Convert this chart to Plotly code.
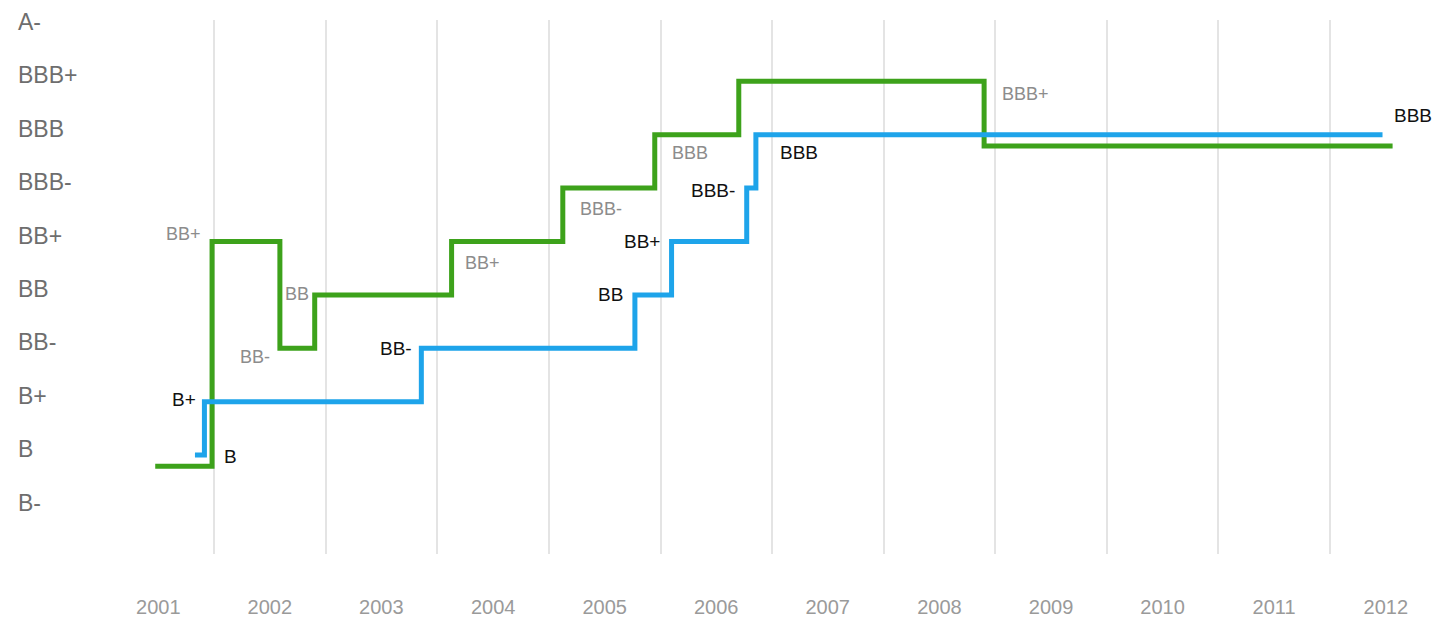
import plotly.graph_objects as go
from datetime import date

# ---------------- data ----------------
rating_scale = ["B-", "B", "B+", "BB-", "BB", "BB+", "BBB-", "BBB", "BBB+", "A-"]
years = [str(y) for y in range(2001, 2013)]

green_dates = ["2001-06-22", "2001-12-25", "2002-08-04", "2002-11-26", "2004-02-17",
               "2005-02-15", "2005-12-13", "2006-09-14", "2008-11-25", "2012-07-24"]
green_ratings = ["B", "BB+", "BB-", "BB", "BB+", "BBB-", "BBB", "BBB+", "BBB", "BBB"]

blue_dates = ["2001-10-30", "2001-11-30", "2003-11-10", "2005-10-09", "2006-02-06",
              "2006-10-10", "2006-11-09", "2012-06-21"]
blue_ratings = ["B", "B+", "BB-", "BB", "BB+", "BBB-", "BBB", "BBB"]

green_label_dates = ["2001-12-25", "2002-08-04", "2002-11-26", "2004-02-17",
                     "2005-02-15", "2005-12-13", "2008-11-25"]
green_label_ratings = ["BB+", "BB-", "BB", "BB+", "BBB-", "BBB", "BBB+"]

blue_label_dates = ["2001-11-30", "2001-11-30", "2003-11-10", "2005-10-09",
                    "2006-02-06", "2006-10-10", "2006-11-09", "2012-06-21"]
blue_label_ratings = ["B", "B+", "BB-", "BB", "BB+", "BBB-", "BBB", "BBB"]

# ---------------- styles ----------------
GREEN = "#3da21b"
BLUE = "#1ea4ea"
GRID = "#e4e4e4"
OVERLAP_OFFSET = 0.21  # vertical separation (category units) where both lines share a rating

# (xanchor, xshift px, yshift px) for each label
green_label_style = [("right", -9, 8), ("right", -8, -9), ("right", -4, 1), ("left", 11, -21),
                     ("left", 15, -21), ("left", 15, -18), ("left", 16, -13)]
blue_label_style = [("left", 18, -1), ("right", -6, 2), ("right", -7, 0), ("right", -10, 0),
                    ("right", -10, 0), ("right", -10, -2), ("left", 22, -18), ("left", 9, 19)]

idx = {r: i for i, r in enumerate(rating_scale)}


def segments(dates, ratings):
    d = [date.fromisoformat(s) for s in dates]
    return [(d[i], d[i + 1], ratings[i]) for i in range(len(d) - 1)]


blue_segs = segments(blue_dates, blue_ratings)
green_segs = segments(green_dates, green_ratings)

green_y = []
for (s, e, r) in green_segs:
    clash = any(r == br and s < be and bs < e for (bs, be, br) in blue_segs)
    green_y.append(idx[r] - (OVERLAP_OFFSET if clash else 0))
green_y.append(green_y[-1])

blue_y = [idx[r] for r in blue_ratings]

fig = go.Figure()
fig.add_trace(go.Scatter(x=green_dates, y=green_y, mode="lines",
                         line=dict(color=GREEN, width=5, shape="hv"),
                         hoverinfo="skip"))
fig.add_trace(go.Scatter(x=blue_dates, y=blue_y, mode="lines",
                         line=dict(color=BLUE, width=5, shape="hv"),
                         hoverinfo="skip"))

LABEL_FONT = "Liberation Sans, Arial, sans-serif"
for d, r, (xa, xs, ys) in zip(green_label_dates, green_label_ratings, green_label_style):
    fig.add_annotation(x=d, y=idx[r], text=r, showarrow=False, xanchor=xa, yanchor="middle",
                       xshift=xs, yshift=ys,
                       font=dict(family=LABEL_FONT, size=18, color="#8c8c8c"))
for d, r, (xa, xs, ys) in zip(blue_label_dates, blue_label_ratings, blue_label_style):
    fig.add_annotation(x=d, y=idx[r], text=r, showarrow=False, xanchor=xa, yanchor="middle",
                       xshift=xs, yshift=ys,
                       font=dict(family=LABEL_FONT, size=19, color="#111111"))

label_pos = [f"{y}-07-02" for y in years]
grid_pos = [f"{y}-01-01" for y in range(2002, 2013)]

fig.update_layout(
    width=1437, height=623,
    margin=dict(l=15, r=5, t=20, b=63),
    paper_bgcolor="white", plot_bgcolor="white",
    showlegend=False,
    xaxis=dict(
        type="date",
        range=["2000-03-20", "2012-11-30"],
        tickmode="array", tickvals=label_pos, ticktext=years,
        showgrid=False, zeroline=False, showline=False,
        ticks="", ticklabelstandoff=39,
        tickfont=dict(family=LABEL_FONT, size=20, color="#9a9a9a"),
        minor=dict(tickmode="array", tickvals=grid_pos, showgrid=True,
                   gridcolor=GRID, gridwidth=1.5, ticks=""),
    ),
    yaxis=dict(
        range=[-0.852, 9.148],
        tickmode="array", tickvals=list(range(len(rating_scale))), ticktext=rating_scale,
        showgrid=False, zeroline=False, showline=False,
        ticks="", ticklabelposition="inside", ticklabelshift=-6,
        ticklabeloverflow="allow",
        tickfont=dict(family=LABEL_FONT, size=23, color="#6e6e6e"),
    ),
)

fig.write_html(
    "out.html",
    config={"displayModeBar": False},
    post_script="document.body.style.margin='0';document.body.style.overflow='hidden';",
)
